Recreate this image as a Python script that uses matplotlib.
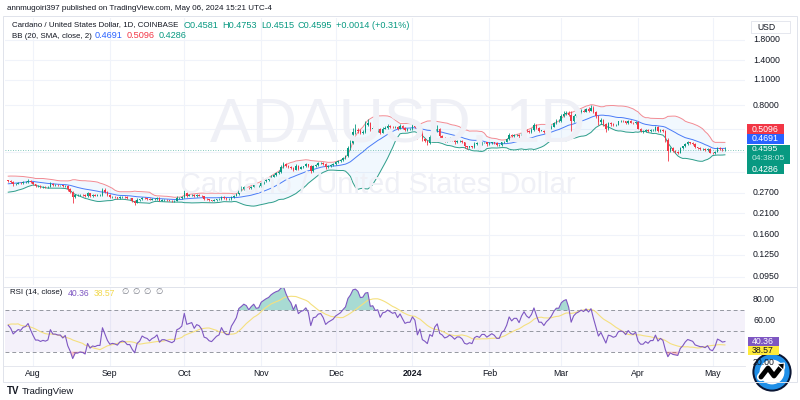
import numpy as np
import pandas as pd
import matplotlib
matplotlib.use("Agg")
import matplotlib.pyplot as plt
from matplotlib.patches import Rectangle, Circle, Polygon
from matplotlib.transforms import blended_transform_factory

plt.rcParams['font.family'] = ['Liberation Sans', 'DejaVu Sans']

# ---------------- data (daily closes, ADA/USD, Coinbase) ----------------
close_jun = [0.365, 0.370, 0.372, 0.368, 0.335, 0.345, 0.322, 0.320, 0.310, 0.272,
             0.280, 0.276, 0.275, 0.262, 0.266, 0.276, 0.281, 0.276, 0.275, 0.286,
             0.296, 0.292, 0.290, 0.286, 0.282, 0.276, 0.281, 0.271, 0.280, 0.290]
close_jul = [0.292, 0.290, 0.292, 0.289, 0.287, 0.282, 0.288, 0.287, 0.284, 0.287,
             0.292, 0.289, 0.330, 0.318, 0.316, 0.314, 0.318, 0.314, 0.312, 0.316,
             0.315, 0.312, 0.308, 0.300, 0.303, 0.306, 0.305, 0.309, 0.310, 0.314,
             0.307]
close_aug = [0.300, 0.293, 0.293, 0.291, 0.292, 0.291, 0.292, 0.302, 0.297, 0.297,
             0.296, 0.296, 0.293, 0.295, 0.283, 0.274, 0.257, 0.262, 0.262, 0.263,
             0.262, 0.259, 0.268, 0.260, 0.262, 0.261, 0.262, 0.262, 0.280, 0.272,
             0.262]
close_sep = [0.255, 0.256, 0.255, 0.253, 0.256, 0.257, 0.256, 0.252, 0.252, 0.245,
             0.239, 0.247, 0.249, 0.254, 0.252, 0.251, 0.248, 0.250, 0.251, 0.253,
             0.245, 0.247, 0.247, 0.246, 0.245, 0.244, 0.245, 0.253, 0.254, 0.256]
close_oct = [0.270, 0.261, 0.262, 0.263, 0.258, 0.262, 0.261, 0.258, 0.250, 0.249,
             0.246, 0.245, 0.247, 0.249, 0.250, 0.256, 0.252, 0.250, 0.250, 0.257,
             0.261, 0.266, 0.280, 0.284, 0.289, 0.288, 0.285, 0.291, 0.296, 0.293,
             0.294]
close_nov = [0.306, 0.311, 0.316, 0.320, 0.330, 0.338, 0.345, 0.350, 0.370, 0.385,
             0.378, 0.372, 0.368, 0.360, 0.378, 0.365, 0.372, 0.375, 0.384, 0.378,
             0.355, 0.378, 0.380, 0.390, 0.392, 0.385, 0.372, 0.378, 0.382, 0.386]
close_dec = [0.395, 0.400, 0.405, 0.415, 0.425, 0.470, 0.500, 0.575, 0.590, 0.585,
             0.570, 0.575, 0.630, 0.640, 0.600, 0.605, 0.590, 0.595, 0.570, 0.600,
             0.605, 0.620, 0.615, 0.610, 0.615, 0.600, 0.620, 0.605, 0.590, 0.595,
             0.595]
close_jan = [0.620, 0.610, 0.555, 0.580, 0.525, 0.515, 0.500, 0.540, 0.530, 0.580,
             0.600, 0.545, 0.535, 0.515, 0.520, 0.530, 0.520, 0.505, 0.515, 0.515,
             0.505, 0.480, 0.475, 0.480, 0.475, 0.495, 0.500, 0.495, 0.505, 0.505,
             0.495]
close_feb = [0.500, 0.505, 0.500, 0.490, 0.490, 0.505, 0.510, 0.525, 0.555, 0.545,
             0.555, 0.555, 0.545, 0.570, 0.590, 0.580, 0.575, 0.590, 0.625, 0.605,
             0.585, 0.585, 0.575, 0.590, 0.600, 0.615, 0.640, 0.660, 0.660]
close_mar = [0.700, 0.720, 0.730, 0.710, 0.660, 0.700, 0.720, 0.730, 0.745, 0.740,
             0.760, 0.750, 0.775, 0.740, 0.700, 0.650, 0.670, 0.635, 0.595, 0.640,
             0.635, 0.625, 0.630, 0.655, 0.660, 0.655, 0.640, 0.660, 0.645, 0.640,
             0.650]
close_apr = [0.600, 0.580, 0.580, 0.590, 0.580, 0.590, 0.590, 0.610, 0.580, 0.590,
             0.580, 0.520, 0.455, 0.470, 0.455, 0.450, 0.445, 0.470, 0.480, 0.495,
             0.505, 0.500, 0.495, 0.475, 0.470, 0.465, 0.465, 0.460, 0.465, 0.445]
close_may = [0.440, 0.450, 0.470, 0.465, 0.4581, 0.4595]

# wick sizes (percent beyond the candle body), visible candles from 2023-07-22
up_wick = ([1, 1, 1, 1, 1, 1, 1, 1, 2, 1] +
           [1, 1, 1, 1, 1, 1, 1, 2, 1, 1, 1, 1, 1, 1, 1, 1, 1, 2, 1, 1, 1, 1, 2, 1, 1, 1, 1, 1, 3, 2, 1] +
           [1, 1, 1, 1, 1, 1, 1, 1, 1, 1, 1, 2, 1, 1, 1, 1, 1, 1, 1, 1, 1, 1, 1, 1, 1, 1, 1, 2, 1, 1] +
           [3, 1, 1, 1, 1, 1, 1, 1, 1, 1, 1, 1, 1, 1, 1, 1, 2, 1, 1, 1, 1, 1, 2, 3, 2, 1, 1, 1, 1, 1, 1] +
           [1, 1, 1, 1, 2, 1, 1, 2, 3, 3, 1, 1, 1, 1, 2, 1, 1, 1, 2, 1, 1, 1, 1, 2, 1, 1, 1, 1, 1, 1] +
           [1, 1, 1, 1, 2, 3, 4, 5, 8, 2, 2, 2, 4, 5, 2, 2, 2, 1, 2, 2, 2, 2, 1, 1, 1, 1, 2, 1, 1, 1, 1] +
           [2, 1, 1, 2, 1, 1, 1, 2, 3, 4, 5, 1, 1, 1, 1, 2, 1, 1, 1, 1, 1, 1, 1, 1, 1, 2, 1, 1, 1, 1, 1] +
           [1, 1, 1, 1, 1, 1, 1, 2, 2, 1, 1, 1, 1, 2, 2, 1, 1, 2, 3, 1, 1, 1, 1, 1, 1, 2, 2, 2, 2] +
           [2, 3, 2, 2, 5, 1, 2, 1, 2, 2, 2, 3, 4, 2, 1, 1, 2, 1, 1, 1, 1, 1, 1, 1, 1, 1, 1, 1, 1, 1, 1] +
           [1, 1, 1, 1, 1, 1, 1, 2, 1, 1, 1, 1, 2, 1, 1, 1, 1, 1, 1, 1, 2, 1, 1, 1, 1, 1, 1, 1, 1, 1] +
           [1, 1, 2, 1, 1, 3.4])
low_wick = ([1, 1, 2, 1, 1, 1, 1, 1, 1, 1] +
            [1, 1, 1, 1, 1, 1, 1, 1, 1, 1, 1, 1, 1, 1, 2, 2, 7, 1, 1, 1, 1, 1, 1, 1, 1, 1, 1, 1, 1, 1, 1] +
            [1, 1, 1, 1, 1, 1, 1, 1, 1, 2, 3, 1, 1, 1, 1, 1, 1, 1, 1, 1, 1, 1, 1, 1, 1, 1, 1, 1, 1, 1] +
            [1, 2, 1, 1, 1, 1, 1, 1, 1, 1, 1, 1, 1, 1, 1, 1, 1, 1, 1, 1, 1, 1, 1, 1, 1, 2, 1, 1, 1, 1, 1] +
            [1, 1, 1, 1, 1, 1, 1, 1, 1, 1, 2, 1, 1, 2, 1, 2, 1, 1, 1, 1, 3, 1, 1, 1, 1, 1, 2, 1, 1, 1] +
            [1, 1, 1, 1, 1, 1, 2, 1, 2, 3, 2, 2, 1, 2, 3, 1, 2, 3, 2, 1, 1, 1, 2, 1, 1, 2, 1, 1, 2, 1, 1] +
            [1, 1, 5, 1, 2, 2, 2, 1, 3, 2, 1, 3, 1, 2, 1, 1, 1, 2, 1, 1, 1, 2, 2, 1, 1, 1, 1, 1, 1, 1, 2] +
            [1, 1, 1, 1, 1, 1, 1, 1, 1, 1, 1, 1, 2, 1, 1, 1, 1, 1, 1, 2, 2, 1, 1, 1, 1, 1, 1, 1, 1] +
            [1, 1, 1, 1, 12, 1, 1, 1, 1, 1, 1, 2, 1, 2, 2, 3, 2, 2, 4, 1, 2, 1, 1, 1, 1, 1, 1, 1, 1, 1, 1] +
            [1, 1, 2, 1, 1, 1, 1, 1, 1, 1, 1, 3, 12, 2, 2, 2, 2, 1, 1, 1, 1, 1, 1, 1, 1, 1, 1, 1, 1, 1] +
            [1, 1, 1, 1, 1, 1.5])

month_labels = ['Aug', 'Sep', 'Oct', 'Nov', 'Dec', '2024', 'Feb', 'Mar', 'Apr', 'May']
month_dates = ['2023-08-01', '2023-09-01', '2023-10-01', '2023-11-01', '2023-12-01',
               '2024-01-01', '2024-02-01', '2024-03-01', '2024-04-01', '2024-05-01']
grid_ticks = [1.8, 1.4, 1.1, 0.8, 0.6, 0.45, 0.35, 0.27, 0.21, 0.16, 0.125, 0.095]
price_labels = [1.8, 1.4, 1.1, 0.8, 0.27, 0.21, 0.16, 0.125, 0.095]
rsi_ticks = [80, 60, 20]

header = "annmugoiri397 published on TradingView.com, May 06, 2024 15:21 UTC-4"
symbol = "Cardano / United States Dollar, 1D, COINBASE"
ohlc_txt = ["O0.4581", "H0.4753", "L0.4515", "C0.4595", "+0.0014 (+0.31%)"]
bb_vals = ["0.4691", "0.5096", "0.4286"]
rsi_vals = ["40.36", "38.57"]
last_price = 0.4595

# ---------------- computations ----------------
closes = (close_jun + close_jul + close_aug + close_sep + close_oct + close_nov +
          close_dec + close_jan + close_feb + close_mar + close_apr + close_may)
dates = pd.date_range('2023-06-01', '2024-05-06', freq='D')
assert len(dates) == len(closes)
s = pd.Series(closes, index=dates)
opens = s.shift(1)
basis = s.rolling(20).mean()
sd = s.rolling(20).std(ddof=0)
upper = basis + 2 * sd
lower = basis - 2 * sd
delta = s.diff().fillna(0)
gain = delta.clip(lower=0)
loss = (-delta).clip(lower=0)
ag = gain.ewm(alpha=1 / 14, adjust=False).mean()
al = loss.ewm(alpha=1 / 14, adjust=False).mean()
rsi = 100 - 100 / (1 + ag / al)
rsi_ma = rsi.rolling(14).mean()

start = pd.Timestamp('2023-07-22')
vis = dates >= start
c = s[vis].values
o = opens[vis].values
n = len(c)
assert len(up_wick) == n and len(low_wick) == n
hi = np.maximum(o, c) * (1 + np.array(up_wick) / 100)
lo = np.minimum(o, c) * (1 - np.array(low_wick) / 100)
x = np.arange(n)
xd = {d: (pd.Timestamp(d) - start).days for d in month_dates}

# ---------------- figure ----------------
W, H = 800, 400
fig = plt.figure(figsize=(8, 4), dpi=100)
fig.patch.set_facecolor('white')

def fx(px):
    return px / W

def fy(py):
    return 1 - py / H

def rect(x0, y0, x1, y1, fc, ec='none', z=5, lw=0.8):
    fig.add_artist(Rectangle((fx(x0), fy(y1)), (x1 - x0) / W, (y1 - y0) / H,
                             transform=fig.transFigure, facecolor=fc, edgecolor=ec,
                             lw=lw, zorder=z))

def ptxt(px, py, s_, **kw):
    kw.setdefault('va', 'center')
    kw.setdefault('ha', 'left')
    return fig.text(fx(px), fy(py), s_, **kw)

XL = (-1.3, 297.1)
ax_p = fig.add_axes([fx(5), fy(285), 740 / W, (285 - 18) / H])
ax_r = fig.add_axes([fx(5), fy(366), 740 / W, (366 - 288) / H])
for ax in (ax_p, ax_r):
    ax.set_xlim(*XL)
    for sp in ax.spines.values():
        sp.set_visible(False)
    ax.set_xticks([])
    ax.set_yticks([])
    ax.patch.set_alpha(0)
    for d in month_dates:
        ax.axvline(xd[d], color='#f0f3fa', lw=0.8, zorder=0)

ax_p.set_yscale('log')
ax_p.set_ylim(0.086, 2.365)
ax_p.set_yticks([])
ax_p.minorticks_off()
for t in grid_ticks:
    ax_p.axhline(t, color='#f0f3fa', lw=0.8, zorder=0)

# watermark
ptxt(398, 125, 'ADAUSD, 1D', fontsize=45, color='#eff0f6', ha='center', zorder=0)
ptxt(378, 185, 'Cardano / United States Dollar', fontsize=21, color='#eff0f6',
     ha='center', zorder=0)

# Bollinger bands
ax_p.fill_between(x, lower[vis].values, upper[vis].values, color='#2196F3', alpha=0.06,
                  lw=0, zorder=1)
ax_p.plot(x, upper[vis].values, color='#F28B93', lw=0.7, zorder=2)
ax_p.plot(x, basis[vis].values, color='#4A7BF7', lw=0.7, zorder=2)
ax_p.plot(x, lower[vis].values, color='#2E9E8A', lw=0.7, zorder=2)

# candles
up_c, dn_c = '#089981', '#F23645'
cols = np.where(c >= o, up_c, dn_c)
ax_p.vlines(x, lo, hi, colors=cols, lw=0.6, zorder=3)
bottoms = np.minimum(o, c)
heights = np.maximum(np.abs(c - o), bottoms * 0.003)
ax_p.bar(x, heights, bottom=bottoms, width=0.62, color=cols, lw=0, zorder=4)

ax_p.axhline(last_price, color='#5fb8a8', lw=0.6, ls=(0, (1, 2)), zorder=2)

# price scale labels
bt = blended_transform_factory(fig.transFigure, ax_p.transData)
for t in price_labels:
    fig.text(fx(753), t, f'{t:.4f}', transform=bt, fontsize=6.3, color='#131722',
             va='center', ha='left')

# USD box
rect(751, 21, 790, 33, 'white', ec='#e0e3eb', z=6, lw=0.6)
ptxt(757, 27, 'USD', fontsize=6.2, color='#131722', zorder=7)

# price tags
tags = [(124, 134, 784, '#F23645', bb_vals[1]),
        (134, 144, 784, '#2962FF', bb_vals[0]),
        (144.5, 164, 790, '#089981', None),
        (164, 174, 784, '#089981', bb_vals[2])]
for y0, y1, x1, colr, lab in tags:
    rect(747, y0, x1, y1, colr, z=8)
    if lab:
        ptxt(752, (y0 + y1) / 2, lab, fontsize=6.3, color='white', zorder=9)
ptxt(752, 149.5, f'{last_price:.4f}', fontsize=6.1, color='white', zorder=9)
ptxt(752, 159, '04:38:05', fontsize=6.1, color='#bfe9e0', zorder=9)

# RSI pane
ax_r.set_ylim(16.2, 91.4)
ax_r.axhspan(30, 70, color='#7E57C2', alpha=0.08, lw=0, zorder=0)
for lv in (70, 50, 30):
    ax_r.axhline(lv, color='#9598a1', lw=0.7, ls=(0, (4, 3)), zorder=1)
rv = rsi[vis].values
rmv = rsi_ma[vis].values
ax_r.fill_between(x, rv, 70, where=rv > 70, interpolate=True, color='#089981',
                  alpha=0.35, lw=0, zorder=2)
ax_r.fill_between(x, rv, 30, where=rv < 30, interpolate=True, color='#F23645',
                  alpha=0.3, lw=0, zorder=2)
ax_r.plot(x, rmv, color='#F5E07E', lw=0.8, zorder=3)
ax_r.plot(x, rv, color='#7E57C2', lw=0.8, zorder=4)

bt_r = blended_transform_factory(fig.transFigure, ax_r.transData)
for t in rsi_ticks:
    fig.text(fx(753), t, f'{t:.2f}', transform=bt_r, fontsize=6.3, color='#131722',
             va='center', ha='left')
rect(748, 337, 779, 345.5, '#7E57C2', z=8)
ptxt(752, 341, rsi_vals[0], fontsize=6.3, color='white', zorder=9)
rect(748, 346, 779, 355, '#FFEB3B', z=8)
ptxt(752, 350.5, rsi_vals[1], fontsize=6.3, color='#131722', zorder=9)

# time axis
bt_t = blended_transform_factory(ax_r.transData, fig.transFigure)
for lab, d in zip(month_labels, month_dates):
    fig.text(xd[d], fy(373), lab, transform=bt_t, fontsize=6.3, color='#131722',
             ha='center', va='center', fontweight='bold' if lab == '2024' else 'normal')

# frame and separators
rect(3, 16, 797, 382, 'none', ec='#e0e3eb', z=10, lw=0.7)
fig.add_artist(plt.Line2D([fx(3), fx(797)], [fy(287), fy(287)], transform=fig.transFigure,
                          color='#e0e3eb', lw=0.7, zorder=10))
fig.add_artist(plt.Line2D([fx(3), fx(745)], [fy(366), fy(366)], transform=fig.transFigure,
                          color='#e0e3eb', lw=0.6, zorder=10))

# header and legends
fig.canvas.draw()
renderer = fig.canvas.get_renderer()

def chain(px, py, parts):
    for txt, colr, gap, size in parts:
        t = ptxt(px, py, txt, fontsize=size, color=colr, zorder=12)
        bb = t.get_window_extent(renderer)
        px = bb.x1 + gap

ptxt(7, 8, header, fontsize=5.8, color='#131722')
g = '#089981'
chain(12, 25, [(symbol, '#131722', 5, 5.7), (ohlc_txt[0], g, 4, 6.6), (ohlc_txt[1], g, 4, 6.6),
               (ohlc_txt[2], g, 4, 6.6), (ohlc_txt[3], g, 4, 6.6), (ohlc_txt[4], g, 0, 6.6)])
chain(12, 36, [('BB (20, SMA, close, 2)', '#131722', 3, 5.7), (bb_vals[0], '#2962FF', 4, 6.6),
               (bb_vals[1], '#F23645', 4, 6.6), (bb_vals[2], '#089981', 0, 6.6)])
chain(10, 293, [('RSI (14, close)', '#131722', 5, 5.7), (rsi_vals[0], '#7E57C2', 5, 6.2),
                (rsi_vals[1], '#F2D84B', 6, 6.2), ('\u2205', '#787B86', 4, 6),
                ('\u2205', '#787B86', 4, 6), ('\u2205', '#787B86', 4, 6),
                ('\u2205', '#787B86', 0, 6)])

# footer TradingView mark
ptxt(7, 391, 'TV', fontsize=7, color='#131722', fontweight='bold')
ptxt(22, 391, 'TradingView', fontsize=6.8, color='#131722')

# round logo bottom-right
ax_l = fig.add_axes([fx(752), fy(392), 40 / W, 40 / H])
ax_l.set_xlim(-1, 1)
ax_l.set_ylim(-1, 1)
ax_l.set_aspect('equal')
ax_l.axis('off')
ax_l.add_patch(Circle((0, 0), 0.98, fc='#0b1633', ec='none'))
ax_l.add_patch(Circle((0, 0), 0.88, fc='#1f8fe8', ec='none'))
ax_l.add_patch(Circle((0, 0), 0.62, fc='white', ec='none'))
zz = np.array([[-0.55, -0.25], [-0.2, 0.2], [0.1, -0.2], [0.45, 0.25]])
ax_l.plot(zz[:, 0], zz[:, 1], color='white', lw=6, solid_capstyle='round', zorder=3)
ax_l.plot(zz[:, 0], zz[:, 1], color='black', lw=3.5, solid_capstyle='round', zorder=4)
ax_l.add_patch(Polygon([[0.62, 0.45], [0.25, 0.40], [0.58, 0.08]], closed=True,
                       fc='black', ec='white', lw=0.8, zorder=5))

fig.savefig('out.png', dpi=100, facecolor='white')
